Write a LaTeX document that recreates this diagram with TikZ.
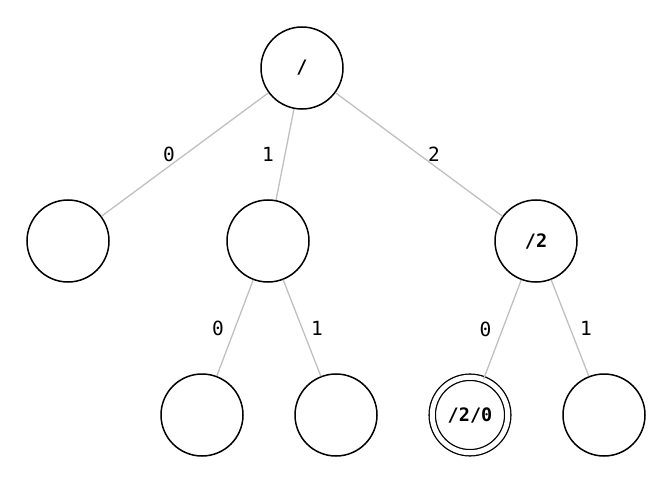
\documentclass[tikz,border=0pt]{standalone}
\usepackage{fontspec}
\setmonofont{DejaVu Sans Mono}
\begin{document}
\begin{tikzpicture}[x=1pt,y=-1pt,
  state/.style={circle,draw=black,line width=1.5pt,minimum size=82pt,inner sep=0pt,font=\ttfamily\bfseries\fontsize{18.5}{20}\selectfont},
  accept/.style={state,double=white,double distance=5pt,line width=1.3pt},
  edge/.style={draw={rgb,255:red,192;green,192;blue,192},line width=1.3pt},
  lab/.style={font=\ttfamily\fontsize{19.5}{21}\selectfont,inner sep=0pt}]
\useasboundingbox (0,0) rectangle (672,484);
\node[state] (r) at (302,68) {/};
\node[state] (a) at (68,241) {};
\node[state] (b) at (268,241) {};
\node[state] (c) at (536,241) {/2};
\node[state] (ba) at (202,415) {};
\node[state] (bb) at (336,415) {};
\node[accept,minimum size=75.5pt] (ca) at (470,415) {/2/0};
\node[state] (cb) at (604,415) {};
\path[edge] (r) -- node[lab,pos=.5,xshift=-16pt] {0} (a);
\path[edge] (r) -- node[lab,pos=.5,xshift=-17pt] {1} (b);
\path[edge] (r) -- node[lab,pos=.5,xshift=15pt] {2} (c);
\path[edge] (b) -- node[lab,pos=.5,xshift=-17pt] {0} (ba);
\path[edge] (b) -- node[lab,pos=.5,xshift=15pt] {1} (bb);
\path[edge] (c) -- node[lab,pos=.5,xshift=-17pt] {0} (ca);
\path[edge] (c) -- node[lab,pos=.5,xshift=16pt] {1} (cb);
\end{tikzpicture}
\end{document}
